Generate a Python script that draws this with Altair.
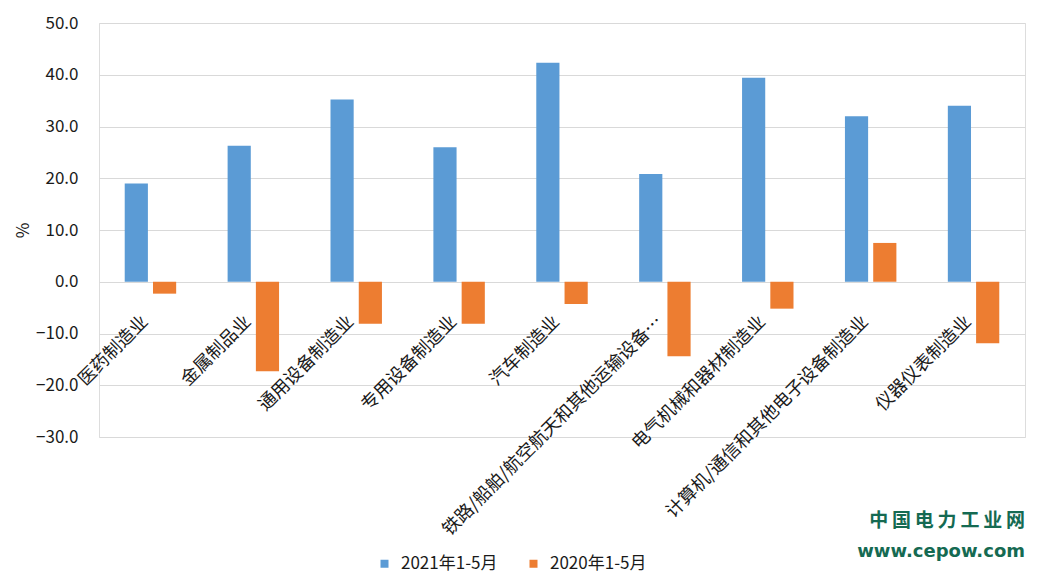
import altair as alt
import pandas as pd

categories = [
    "医药制造业",
    "金属制品业",
    "通用设备制造业",
    "专用设备制造业",
    "汽车制造业",
    "铁路/船舶/航空航天和其他运输设备…",
    "电气机械和器材制造业",
    "计算机/通信和其他电子设备制造业",
    "仪器仪表制造业",
]
series = ["2021年1-5月", "2020年1-5月"]
values_2021 = [19.0, 26.3, 35.2, 26.0, 42.3, 20.8, 39.4, 32.0, 34.0]
values_2020 = [-2.3, -17.3, -8.1, -8.1, -4.3, -14.4, -5.2, 7.5, -11.9]
colors = ["#5B9BD5", "#ED7D31"]
y_ticks = [-30, -20, -10, 0, 10, 20, 30, 40, 50]

FONT = "Noto Sans CJK SC"

rows = []
for c, a, b in zip(categories, values_2021, values_2020):
    rows.append({"cat": c, "series": series[0], "value": a})
    rows.append({"cat": c, "series": series[1], "value": b})
df = pd.DataFrame(rows)
lab = pd.DataFrame({"cat": categories})

x_enc = alt.X(
    "cat:N",
    sort=categories,
    axis=None,
    scale=alt.Scale(paddingInner=0.5, paddingOuter=0.25),
)

bars = alt.Chart(df).mark_bar().encode(
    x=x_enc,
    xOffset=alt.XOffset("series:N", sort=series, scale=alt.Scale(paddingInner=0.18)),
    y=alt.Y(
        "value:Q",
        scale=alt.Scale(domain=[-30, 50], nice=False),
        axis=alt.Axis(
            values=y_ticks,
            format=".1f",
            title="%",
            titleFontSize=17,
            titleFontWeight="normal",
            titleColor="#1a1a1a",
            titlePadding=3,
            titleFont=FONT,
            labelFont=FONT,
            labelFontSize=17,
            labelColor="#1a1a1a",
            labelPadding=21,
            domain=False,
            ticks=False,
            gridColor="#d9d9d9",
            gridWidth=1.2,
        ),
    ),
    color=alt.Color(
        "series:N",
        sort=series,
        scale=alt.Scale(domain=series, range=colors),
        legend=alt.Legend(
            title=None,
            orient="none",
            legendX=277,
            legendY=532,
            direction="horizontal",
            symbolType="square",
            symbolSize=64,
            symbolStrokeWidth=0,
            labelFont=FONT,
            labelFontSize=17,
            labelColor="#1a1a1a",
            labelOffset=8,
            columnPadding=27,
            padding=0,
        ),
    ),
)

labels = alt.Chart(lab).mark_text(
    angle=315,
    align="right",
    baseline="middle",
    dx=-30,
    dy=23,
    font=FONT,
    fontSize=18,
    color="#1a1a1a",
).encode(
    x=x_enc,
    y=alt.datum(0),
    text="cat:N",
)

chart = alt.layer(bars, labels).properties(
    width=926,
    height=414,
    padding={"left": 6, "top": 6, "right": 5, "bottom": 5},
    title=alt.TitleParams(
        text="中\u2009国\u2009电\u2009力\u2009工\u2009业\u2009网",
        subtitle="www.cepow.com",
        orient="bottom",
        anchor="end",
        frame="group",
        offset=-60,
        baseline="top",
        font=FONT,
        fontSize=19,
        fontWeight="bold",
        color="#156a52",
        subtitleFont="DejaVu Sans",
        subtitleFontSize=18,
        subtitleFontWeight="bold",
        subtitleColor="#156a52",
        subtitlePadding=12,
    ),
).configure_view(stroke=None).configure(background="white")

chart.save("out.html", embed_options={"renderer": "svg", "actions": False})
